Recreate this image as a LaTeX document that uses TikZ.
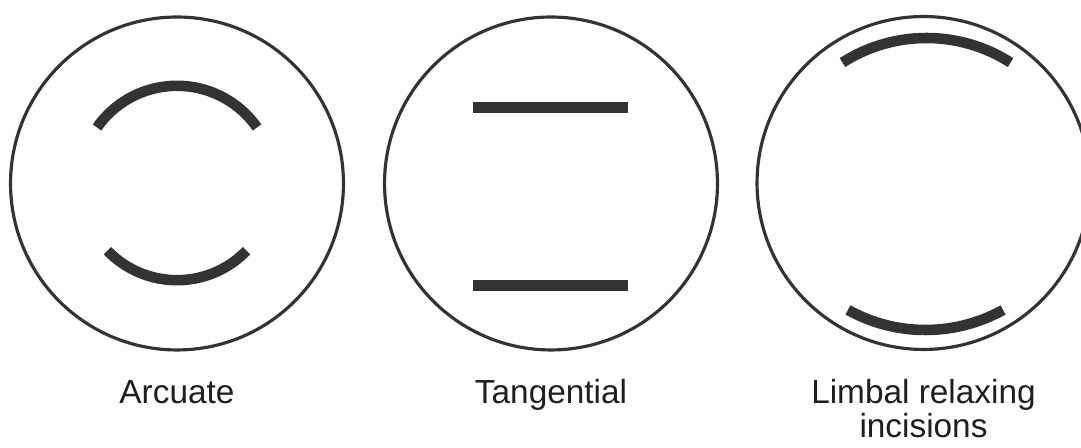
\documentclass[tikz,border=0pt]{standalone}
\usepackage{fontspec}
\setmainfont{Liberation Sans}
\usepackage{tikz}
\usetikzlibrary{positioning, calc}
\definecolor{ink}{RGB}{51, 51, 51}
\definecolor{txt}{RGB}{30, 30, 30}

\begin{document}
\begin{tikzpicture}[
    x=0.02cm, y=0.02cm,
    eye/.style={circle, draw=ink, line width=1.8pt, minimum size=6.66cm, inner sep=0pt},
    cut/.style={draw=ink, line width=6pt},
    lbl/.style={text=txt, font=\fontsize{19}{19.4}\selectfont, align=center, anchor=base, inner sep=0pt}
]
    \useasboundingbox (0,0) rectangle (1081,448);

    \node [eye] (arcu) at (177,264.5) {};
    \node [eye] (tang) at (551,264.5) {};
    \node [eye] (limb) at (923.5,265) {};

    % Arcuate
    \draw [cut] ($(arcu.center)+(35:97.7)$) arc[start angle=35, end angle=145, radius=97.7];
    \draw [cut] ($(arcu.center)+(224:96.7)$) arc[start angle=224, end angle=316, radius=96.7];

    % Tangential
    \draw [cut] ($(tang.center)+(-78,76)$) -- ($(tang.center)+(77,76)$);
    \draw [cut] ($(tang.center)+(-78,-102)$) -- ($(tang.center)+(77,-102)$);

    % Limbal relaxing incisions
    \draw [cut] ($(limb.center)+(3,-11)+(57.4:156)$) arc[start angle=57.4, end angle=122.6, radius=156];
    \draw [cut] ($(limb.center)+(2,13)+(241:160)$) arc[start angle=241, end angle=299, radius=160];

    \node [lbl] (arcul) at ($(arcu.center)+(0,-220.5)$) {Arcuate};
    \node [lbl] (tangl) at ($(tang.center)+(0,-220.5)$) {Tangential};
    \node [lbl] (limbl) at ($(limb.center)+(0,-255)$) {Limbal relaxing\\incisions};

\end{tikzpicture}
\end{document}
